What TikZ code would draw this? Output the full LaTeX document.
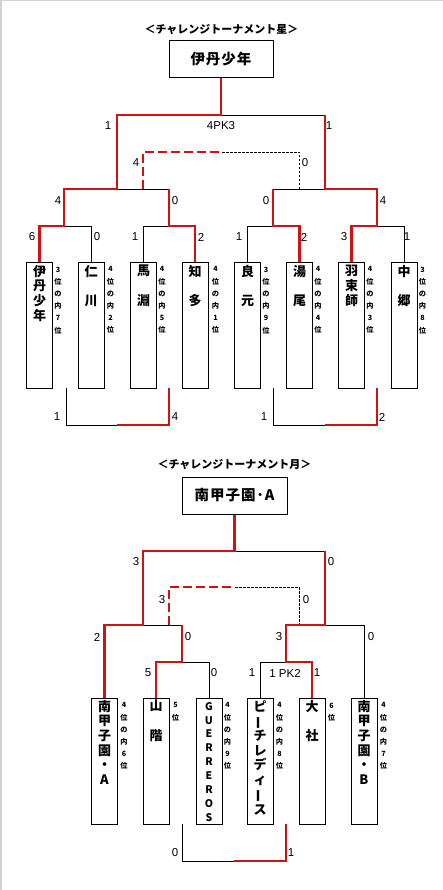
\documentclass[tikz,border=0pt]{standalone}
\usepackage{fontspec}
\usepackage{graphicx}
\newfontfamily\jp{Noto Sans CJK JP}
\newfontfamily\lat{Liberation Sans}
\definecolor{myred}{RGB}{204,20,20}
\begin{document}
\begin{tikzpicture}[x=1pt,y=-1pt,
  win/.style={draw=myred,line width=2.6pt},
  lose/.style={draw=black,line width=0.9pt},
  windash/.style={draw=myred,line width=2.6pt,dash pattern=on 9pt off 4pt},
  losedash/.style={draw=black,line width=0.8pt,dash pattern=on 2.5pt off 1.5pt},
  team/.style={draw,line width=1pt,minimum width=26pt,minimum height=126pt,inner sep=0pt,anchor=north},
  champ/.style={draw,line width=1pt,minimum height=37pt,inner sep=0pt,font=\jp\bfseries\fontsize{14.5}{16}\selectfont},
  tname/.style={anchor=north,inner sep=0pt,align=center,font=\jp\bfseries\fontsize{13}{14.7}\selectfont},
  tlat/.style={anchor=north,inner sep=0pt,align=center,font=\jp\bfseries\fontsize{10.5}{13.9}\selectfont},
  side/.style={anchor=north,inner sep=0pt,align=center,font=\jp\bfseries\fontsize{7.2}{12.2}\selectfont},
  lbl/.style={inner sep=0pt,font=\lat\fontsize{11.5}{13}\selectfont},
  ttl/.style={inner sep=0pt,font=\jp\bfseries\fontsize{11}{13}\selectfont}
]
\useasboundingbox (0,0) rectangle (443,890);
\draw[gray!35,line width=1.5pt] (0.75,890) -- (0.75,0.75) -- (443,0.75);

% ================= TOP TOURNAMENT =================
\node[ttl] (title1) at (221.5,30) {＜チャレンジトーナメント星＞};
\node[champ,minimum width=104pt] (c1) at (221,59.5) {伊\kern1pt 丹\kern1pt 少\kern1pt 年};

\node[team] (t1) at (39.5,262) {};
\node[team] (t2) at (91,262) {};
\node[team] (t3) at (143.5,262) {};
\node[team] (t4) at (195,262) {};
\node[team] (t5) at (247.5,262) {};
\node[team] (t6) at (299.5,262) {};
\node[team] (t7) at (351.5,262) {};
\node[team] (t8) at (404,262) {};

\node[tname] (n1) at ([yshift=-3pt]t1.north) {伊\\丹\\少\\年};
\node[tname] (n2) at ([yshift=-3pt]t2.north) {仁\\[14.7pt]川};
\node[tname] (n3) at ([yshift=-3pt]t3.north) {馬\\[14.7pt]淵};
\node[tname] (n4) at ([yshift=-3pt]t4.north) {知\\[14.7pt]多};
\node[tname] (n5) at ([yshift=-3pt]t5.north) {良\\[14.7pt]元};
\node[tname] (n6) at ([yshift=-3pt]t6.north) {湯\\[14.7pt]尾};
\node[tname] (n7) at ([yshift=-3pt]t7.north) {羽\\束\\師};
\node[tname] (n8) at ([yshift=-3pt]t8.north) {中\\[14.7pt]郷};

\node[side] (s1) at ([xshift=5pt,yshift=-4.5pt]t1.north east) {3\\位\\の\\内\\7\\位};
\node[side] (s2) at ([xshift=6pt,yshift=-4.5pt]t2.north east) {4\\位\\の\\内\\2\\位};
\node[side] (s3) at ([xshift=5pt,yshift=-4.5pt]t3.north east) {4\\位\\の\\内\\5\\位};
\node[side] (s4) at ([xshift=7pt,yshift=-4.5pt]t4.north east) {4\\位\\の\\内\\1\\位};
\node[side] (s5) at ([xshift=5pt,yshift=-4.5pt]t5.north east) {3\\位\\の\\内\\9\\位};
\node[side] (s6) at ([xshift=5pt,yshift=-4.5pt]t6.north east) {4\\位\\の\\内\\4\\位};
\node[side] (s7) at ([xshift=5pt,yshift=-4.5pt]t7.north east) {4\\位\\の\\内\\3\\位};
\node[side] (s8) at ([xshift=5pt,yshift=-4.5pt]t8.north east) {3\\位\\の\\内\\8\\位};

\coordinate (F) at (221,115);
\coordinate (FR) at (325,115);
\coordinate (SL) at (117,189);
\coordinate (SLb) at (169,189);
\coordinate (SR) at (325,189);
\coordinate (SRa) at (273,189);
\coordinate (Q1) at (64,226);
\coordinate (Q2) at (169,226);
\coordinate (Q3) at (273,226);
\coordinate (Q4) at (377,226);
\coordinate (D1) at (143,189);
\coordinate (Dm) at (222,152);
\coordinate (D2) at (299,189);
\coordinate (e1) at (66,388);
\coordinate (e1m) at (117,425);
\coordinate (e2) at (169,388);
\coordinate (e3) at (273,388);
\coordinate (e3m) at (325,425);
\coordinate (e4) at (377,388);

% black lines
\draw[lose] (t2.north) |- (Q1);
\draw[lose] (t3.north) |- (Q2);
\draw[lose] (t5.north) |- (Q3);
\draw[lose] (t8.north) |- (Q4);
\draw[lose] (SLb) -- (SL);
\draw[lose] (SRa) -- (SR);
\draw[lose] (FR) -- (F);
\draw[losedash] (Dm) -| (D2);
\draw[lose] (e1) |- (e1m);
\draw[lose] (e3) |- (e3m);
% red lines
\draw[win] (t1.north) |- (Q1) |- (SL) |- (F) -- (c1.south);
\draw[win] (t4.north) |- (Q2) -- (SLb);
\draw[win] (t6.north) |- (Q3) -- (SRa);
\draw[win] (t7.north) |- (Q4) |- (SR) -- (FR);
\draw[windash] (D1) |- (Dm);
\draw[win] (e2) |- (e1m);
\draw[win] (e4) |- (e3m);

% labels
\node[lbl] (l1) at (108,126) {1};
\node[lbl] (l2) at (221,126) {4PK3};
\node[lbl] (l3) at (329,126) {1};
\node[lbl] (l4) at (136,163) {4};
\node[lbl] (l5) at (305,163) {0};
\node[lbl] (l6) at (58,201) {4};
\node[lbl] (l7) at (175,201) {0};
\node[lbl] (l8) at (266,201) {0};
\node[lbl] (l9) at (383,201) {4};
\node[lbl] (l10) at (32,237) {6};
\node[lbl] (l11) at (97,237) {0};
\node[lbl] (l12) at (135,237) {1};
\node[lbl] (l13) at (201,237) {2};
\node[lbl] (l14) at (239,237) {1};
\node[lbl] (l15) at (304,237) {2};
\node[lbl] (l16) at (344,237) {3};
\node[lbl] (l17) at (407,237) {1};
\node[lbl] (l18) at (57,417) {1};
\node[lbl] (l19) at (175,417) {4};
\node[lbl] (l20) at (264,417) {1};
\node[lbl] (l21) at (382,417) {2};

% ================= BOTTOM TOURNAMENT =================
\node[ttl] (title2) at (234.5,465) {＜チャレンジトーナメント月＞};
\node[champ,minimum width=105pt] (c2) at (234.5,495.5) {南\kern1pt 甲\kern1pt 子\kern1pt 園\kern1pt ･\kern1pt A};

\node[team] (b1) at (104.5,698) {};
\node[team] (b2) at (156,698) {};
\node[team] (b3) at (209,698) {};
\node[team] (b4) at (260,698) {};
\node[team] (b5) at (312,698) {};
\node[team] (b6) at (364,698) {};

\node[tname] (m1) at ([yshift=-2pt]b1.north) {南\\甲\\子\\園\\・\\A};
\node[tname] (m2) at ([yshift=-2pt]b2.north) {山\\[14.7pt]階};
\node[tlat] (m3) at ([yshift=-4pt]b3.north) {G\\U\\E\\R\\R\\E\\R\\O\\S};
\node[tname] (m4) at ([yshift=-2pt]b4.north) {ピ\\\smash{\rotatebox[origin=c]{90}{ー}}\\チ\\レ\\デ\\ィ\\\smash{\rotatebox[origin=c]{90}{ー}}\\ス};
\node[tname] (m5) at ([yshift=-2pt]b5.north) {大\\[14.7pt]社};
\node[tname] (m6) at ([yshift=-2pt]b6.north) {南\\甲\\子\\園\\・\\B};

\node[side] (r1) at ([xshift=6pt,yshift=-4.5pt]b1.north east) {4\\位\\の\\内\\6\\位};
\node[side] (r2) at ([xshift=6pt,yshift=-4.5pt]b2.north east) {5\\位};
\node[side] (r3) at ([xshift=5pt,yshift=-4.5pt]b3.north east) {4\\位\\の\\内\\9\\位};
\node[side] (r4) at ([xshift=6pt,yshift=-4.5pt]b4.north east) {4\\位\\の\\内\\8\\位};
\node[side] (r5) at ([xshift=6pt,yshift=-4.5pt]b5.north east) {6\\位};
\node[side] (r6) at ([xshift=6pt,yshift=-4.5pt]b6.north east) {4\\位\\の\\内\\7\\位};

\coordinate (G) at (234.5,551);
\coordinate (F2R) at (325,551);
\coordinate (S2L) at (143,625);
\coordinate (S2Lb) at (182,625);
\coordinate (S2R) at (325,625);
\coordinate (R1b) at (182,662);
\coordinate (R1c) at (286,662);
\coordinate (D3) at (169,625);
\coordinate (D3m) at (235,587);
\coordinate (D4) at (299,625);
\coordinate (f1) at (182,824);
\coordinate (f1m) at (234,861);
\coordinate (f2) at (286,824);

% black lines
\draw[lose] (G) -- (F2R);
\draw[lose] (S2Lb) -- (S2L);
\draw[lose] (b3.north) |- (R1b);
\draw[lose] (b4.north) |- (R1c);
\draw[lose] (b6.north) |- (S2R);
\draw[losedash] (D3m) -| (D4);
\draw[lose] (f1) |- (f1m);
% red lines
\draw[win] (b1.north) |- (S2L) |- (G) -- (c2.south);
\draw[win] (b2.north) |- (R1b) -- (S2Lb);
\draw[win] (b5.north) |- (R1c) |- (S2R) -- (F2R);
\draw[windash] (D3) |- (D3m);
\draw[win] (f2) |- (f1m);

% labels
\node[lbl] (k1) at (136,562) {3};
\node[lbl] (k2) at (331,562) {0};
\node[lbl] (k3) at (162,600) {3};
\node[lbl] (k4) at (306,600) {0};
\node[lbl] (k5) at (97,637) {2};
\node[lbl] (k6) at (188,637) {0};
\node[lbl] (k7) at (279,637) {3};
\node[lbl] (k8) at (371,637) {0};
\node[lbl] (k9) at (148,673) {5};
\node[lbl] (k10) at (214,673) {0};
\node[lbl] (k11) at (252,673) {1};
\node[lbl] (k12) at (285,673) {1 PK2};
\node[lbl] (k13) at (317,673) {1};
\node[lbl] (k14) at (175,853) {0};
\node[lbl] (k15) at (291,853) {1};
\end{tikzpicture}
\end{document}
